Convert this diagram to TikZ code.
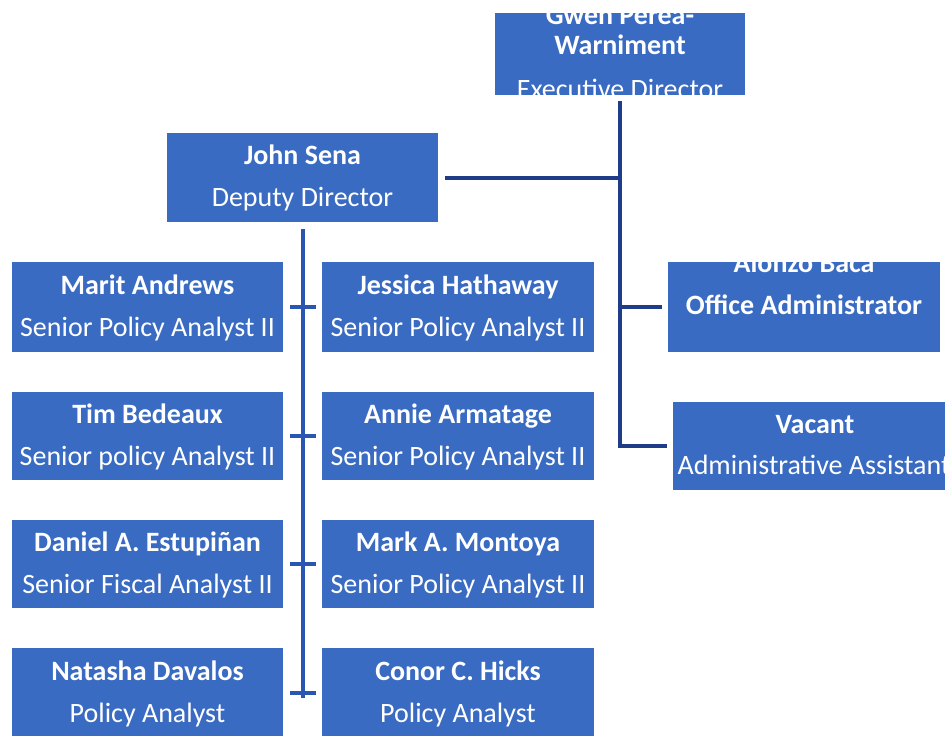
\documentclass[tikz,border=0pt]{standalone}
\usepackage{fontspec}
\setmainfont{Carlito}
\definecolor{boxblue}{HTML}{3A6BC2}
\definecolor{lineA}{HTML}{2A55B0}
\definecolor{lineB}{HTML}{1F3C88}
\begin{document}
\begin{tikzpicture}[x=1pt,y=-1pt,
  box/.style={fill=boxblue, draw=none, inner sep=0pt, outer sep=0pt, anchor=north west},
  nm/.style={text=white, font=\fontsize{28}{32}\selectfont\bfseries, anchor=base, inner sep=0pt},
  tt/.style={text=white, font=\fontsize{28}{32}\selectfont, anchor=base, inner sep=0pt},
  linkA/.style={draw=lineA, line width=4pt},
  linkB/.style={draw=lineB, line width=4pt}]
\clip (0,0) rectangle (945,736);
\fill[white] (0,0) rectangle (945,736);
% boxes
\node[box, minimum width=250pt, minimum height=82pt] (gwen) at (495,13) {};
\node[box, minimum width=271pt, minimum height=89pt] (john) at (167,133) {};
\node[box, minimum width=272pt, minimum height=90pt] (alonzo) at (668,262) {};
\node[box, minimum width=290pt, minimum height=88pt] (vacant) at (673,402) {};
\node[box, minimum width=271pt, minimum height=90pt] (marit) at (12,262) {};
\node[box, minimum width=272pt, minimum height=90pt] (jessica) at (322,262) {};
\node[box, minimum width=271pt, minimum height=88pt] (tim) at (12,392) {};
\node[box, minimum width=272pt, minimum height=88pt] (annie) at (322,392) {};
\node[box, minimum width=271pt, minimum height=88pt] (daniel) at (12,520) {};
\node[box, minimum width=272pt, minimum height=88pt] (mark) at (322,520) {};
\node[box, minimum width=271pt, minimum height=100pt] (natasha) at (12,648) {};
\node[box, minimum width=272pt, minimum height=100pt] (conor) at (322,648) {};
% texts
\begin{scope}
\clip (gwen.south west) rectangle (gwen.north east);
\node[nm] (gwenA) at ([yshift=-11pt]gwen.north) {Gwen Perea-};
\node[nm] (gwenB) at ([yshift=-41pt]gwen.north) {Warniment};
\node[tt] (gwenC) at ([yshift=-85pt]gwen.north) {Executive Director};
\end{scope}
\node[nm] (johnA) at ([yshift=-31pt]john.north) {John Sena};
\node[tt] (johnB) at ([yshift=-73pt]john.north) {Deputy Director};
\begin{scope}
\clip (alonzo.south west) rectangle (alonzo.north east);
\node[nm] (alonzoA) at ([yshift=-10pt]alonzo.north) {Alonzo Baca};
\node[nm] (alonzoB) at ([yshift=-52pt]alonzo.north) {Office Administrator};
\end{scope}
\node[nm] (vacantA) at ([xshift=-3pt,yshift=-31pt]vacant.north) {Vacant};
\node[tt] (vacantB) at ([xshift=-4pt,yshift=-72pt]vacant.north) {Administrative Assistant};
\node[nm] (maritA) at ([yshift=-32pt]marit.north) {Marit Andrews};
\node[tt] (maritB) at ([yshift=-74pt]marit.north) {Senior Policy Analyst II};
\node[nm] (jessicaA) at ([yshift=-32pt]jessica.north) {Jessica Hathaway};
\node[tt] (jessicaB) at ([yshift=-74pt]jessica.north) {Senior Policy Analyst II};
\node[nm] (timA) at ([yshift=-31pt]tim.north) {Tim Bedeaux};
\node[tt] (timB) at ([yshift=-73pt]tim.north) {Senior policy Analyst II};
\node[nm] (annieA) at ([yshift=-31pt]annie.north) {Annie Armatage};
\node[tt] (annieB) at ([yshift=-73pt]annie.north) {Senior Policy Analyst II};
\node[nm] (danielA) at ([yshift=-31pt]daniel.north) {Daniel A. Estupiñan};
\node[tt] (danielB) at ([yshift=-73pt]daniel.north) {Senior Fiscal Analyst II};
\node[nm] (markA) at ([yshift=-31pt]mark.north) {Mark A. Montoya};
\node[tt] (markB) at ([yshift=-73pt]mark.north) {Senior Policy Analyst II};
\node[nm] (natashaA) at ([yshift=-32pt]natasha.north) {Natasha Davalos};
\node[tt] (natashaB) at ([yshift=-74pt]natasha.north) {Policy Analyst};
\node[nm] (conorA) at ([yshift=-32pt]conor.north) {Conor C. Hicks};
\node[tt] (conorB) at ([yshift=-74pt]conor.north) {Policy Analyst};
% connectors right
\draw[linkB] ([yshift=-6pt]gwen.south) -- (gwen.south |- vacant.west) -- ([xshift=-6pt]vacant.west);
\draw[linkB] ([xshift=7pt]john.east) -- (john.east -| gwen.south);
\draw[linkB] (alonzo.west -| gwen.south) -- ([xshift=-6pt]alonzo.west);
% connectors left
\draw[linkA] ([yshift=-7pt]john.south) -- (john.south |- natasha.east);
\draw[linkA] ([xshift=7pt]marit.east) -- ([xshift=-6pt]jessica.west);
\draw[linkA] ([xshift=7pt]tim.east) -- ([xshift=-6pt]annie.west);
\draw[linkA] ([xshift=7pt]daniel.east) -- ([xshift=-6pt]mark.west);
\coordinate (natT) at ([yshift=-45pt]natasha.north east);
\coordinate (conT) at ([yshift=-45pt]conor.north west);
\draw[linkA] ([xshift=7pt]natT) -- ([xshift=-6pt]conT);
\end{tikzpicture}
\end{document}
